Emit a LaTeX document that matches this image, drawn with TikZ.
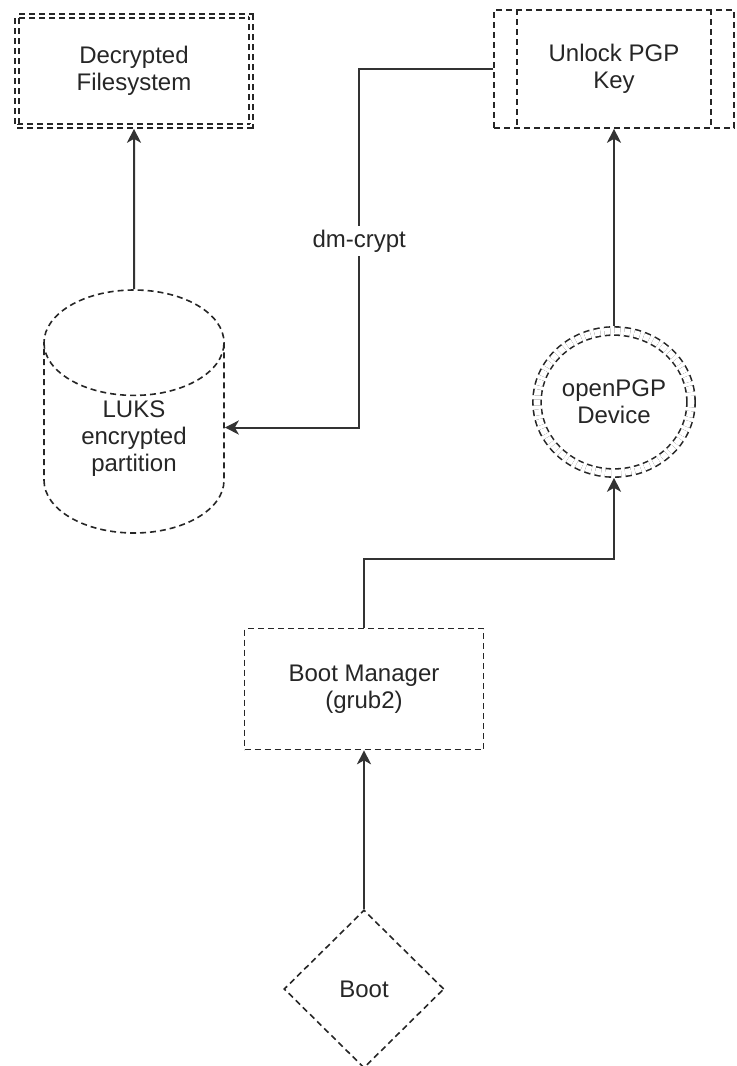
\documentclass[tikz,border=0pt]{standalone}
\usepackage{fontspec}
\setmainfont{Liberation Sans}
\usetikzlibrary{shapes.geometric,arrows.meta}
\begin{document}
\begin{tikzpicture}[x=0.5pt,y=-0.5pt,
    every node/.style={font=\fontsize{12}{13.5}\selectfont, align=center, text=black!85},
    shapeline/.style={draw=black!85, line width=0.8pt, dash pattern=on 3pt off 2pt},
    box/.style={shapeline, rectangle, inner sep=0pt, minimum width=119.5pt, minimum height=60.5pt},
    dbox/.style={box, double, double distance=1.3pt, outer sep=1.4pt},
    disk/.style={shapeline, cylinder, shape border rotate=90, aspect=1, inner sep=0pt,
      minimum width=90pt, minimum height=121.5pt},
    dcircle/.style={shapeline, ellipse, double, double distance=3.3pt, inner sep=0pt, outer sep=2.4pt},
    choice/.style={shapeline, diamond, inner sep=0pt},
    link/.style={-{Stealth[length=7pt,width=7pt,inset=2pt]}, line width=1pt, draw=black!80}]
  \useasboundingbox (0,0) rectangle (736,1066);
  \node[dbox, minimum width=117pt, minimum height=55pt] (fs) at (134,71) {Decrypted\\Filesystem};
  \node[box, minimum width=120pt, minimum height=59pt] (key) at (614,69) {Unlock PGP\\Key};
  \draw[shapeline] ([xshift=12pt]key.north west) -- ([xshift=12pt]key.south west);
  \draw[shapeline] ([xshift=-12pt]key.north east) -- ([xshift=-12pt]key.south east);
  \node[disk, anchor=shape center] (luks) at (134,411.5) {LUKS\\encrypted\\partition};
  \node[dcircle, minimum width=77pt, minimum height=71pt] (dev) at (614,402) {openPGP\\Device};
  \node[box] (mgr) at (364,689) {Boot Manager\\(grub2)};
  \node[choice, minimum width=80pt, minimum height=79pt] (boot) at (364,989) {Boot};
  \coordinate (lukin) at ([yshift=-8pt]luks.east |- luks.shape center);
  \draw[link] (luks.north) -- (fs.south);
  \draw[link] (dev.north) -- (key.south);
  \draw[link] (boot.north) -- (mgr.south);
  \draw[link] (mgr.north) -- ++(0,-69) -| (dev.south);
  \draw[link] (key.west) -- ++(-134,0) |- node[pos=0.24, fill=white, inner sep=2pt]{dm-crypt} (lukin);
\end{tikzpicture}
\end{document}
